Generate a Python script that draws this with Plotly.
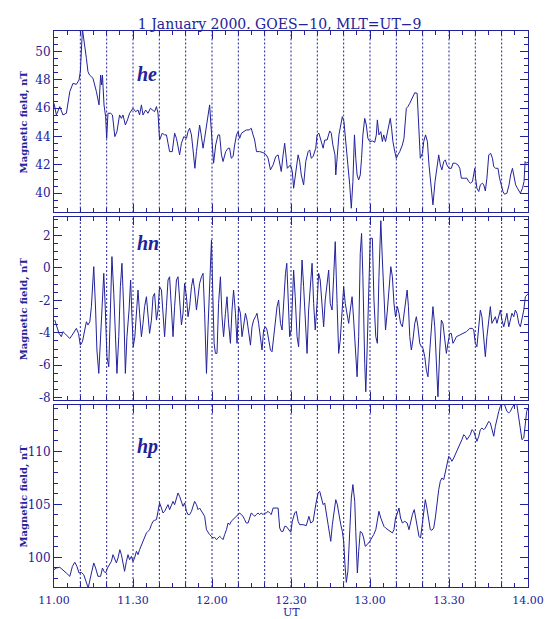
import plotly.graph_objects as go

# ---------------- data (minutes after 11:00 UT, nT) ----------------
he_t = [0, 0.9, 2.2, 3.4, 4.7, 6.0, 7.2, 8.5, 9.5, 10.0,
        10.8, 11.7, 12.3, 12.9, 13.5, 14.8, 16.1, 17.1, 17.7, 18.1,
        18.4, 19.0, 19.6, 20.0, 20.5, 21.5, 22.2, 23.1, 23.9, 24.9,
        25.6, 26.2, 27.1, 27.9, 28.7, 30.0, 31.0, 31.9, 32.5, 33.2,
        33.8, 34.8, 35.7, 36.6, 37.4, 38.2, 38.9, 39.5, 40.1, 41.1,
        42.0, 42.7, 43.3, 43.9, 44.9, 45.8, 46.5, 47.1, 47.7, 48.4,
        49.3, 50.3, 50.9, 51.5, 52.2, 52.8, 53.5, 54.1, 54.7, 55.3,
        55.9, 56.6, 57.2, 57.9, 58.5, 59.1, 59.6, 60.1, 60.6, 61.4,
        62.3, 62.9, 63.6, 64.2, 65.2, 66.1, 66.7, 67.3, 68.0, 68.6,
        69.3, 69.9, 70.5, 71.2, 72.0, 73.0, 74.1, 74.9, 75.6, 76.2,
        76.9, 78.1, 79.4, 80.6, 81.3, 82.2, 83.2, 84.2, 85.1, 85.7,
        86.3, 87.0, 87.6, 88.2, 88.6, 89.8, 90.5, 91.0, 91.8, 92.7,
        93.3, 93.9, 94.8, 95.6, 96.5, 97.1, 97.7, 98.4, 99.4, 99.9,
        100.6, 101.5, 102.2, 102.8, 103.7, 104.7, 105.3, 105.9, 106.7, 107.0,
        107.5, 108.2, 108.9, 109.5, 110.1, 110.8, 111.6, 112.3, 112.9, 113.5,
        114.1, 114.6, 115.1, 115.7, 116.3, 116.8, 117.3, 118.0, 118.6, 119.2,
        119.9, 120.9, 121.8, 122.4, 122.8, 123.4, 124.1, 124.7, 125.2, 125.9,
        126.8, 127.7, 128.2, 128.7, 129.4, 130.0, 130.6, 131.3, 132.3, 132.9,
        133.8, 134.4, 135.1, 135.7, 136.3, 137.0, 137.9, 138.6, 139.1, 139.9,
        140.4, 141.1, 141.8, 142.4, 143.3, 143.9, 144.7, 145.4, 146.1, 146.7,
        147.3, 148.0, 148.6, 149.2, 150.0, 150.9, 151.5, 152.4, 153.4, 154.1,
        154.7, 156.0, 156.8, 157.5, 158.1, 158.9, 159.4, 159.8, 160.1, 160.6,
        161.3, 161.9, 162.7, 163.2, 163.8, 164.4, 165.1, 165.8, 166.5, 167.0,
        167.7, 168.6, 169.2, 169.9, 170.5, 171.1, 172.0, 172.8, 173.4, 174.1,
        174.7, 175.3, 176.0, 176.6, 177.1, 177.9, 178.5, 178.9, 179.4, 180.0]
he_v = [46.35, 45.53, 46.12, 45.53, 45.65, 47.18, 47.76, 47.69, 48.0, 48.59,
        51.6, 50.47, 49.53, 48.59, 48.35, 48.12, 47.18, 46.24, 48.35, 47.65,
        48.35, 46.24, 45.41, 43.88, 45.65, 45.65, 45.53, 44.0, 44.35, 45.53,
        45.29, 45.53, 44.82, 45.18, 45.65, 46.0, 45.76, 45.88, 45.53, 46.24,
        45.53, 45.88, 45.65, 46.0, 45.88, 45.76, 46.12, 45.65, 43.76, 44.24,
        44.12, 44.12, 43.53, 42.94, 42.94, 44.24, 43.88, 43.18, 42.71, 43.53,
        44.0, 43.88, 44.35, 44.59, 44.12, 43.06, 41.76, 42.94, 44.12, 44.82,
        44.12, 43.18, 43.88, 44.82, 45.76, 46.24, 44.82, 42.94, 42.12, 43.41,
        44.12, 44.12, 42.71, 42.24, 42.94, 43.18, 43.18, 42.47, 42.59, 43.41,
        44.12, 44.35, 43.88, 44.24, 44.35, 44.47, 44.47, 44.59, 44.12, 43.76,
        42.94, 42.94, 42.87, 42.71, 42.47, 41.65, 42.0, 42.59, 42.71, 42.0,
        41.53, 42.71, 43.53, 42.47, 41.76, 42.0, 41.53, 40.35, 41.53, 42.71,
        42.24, 41.29, 40.59, 42.24, 42.94, 43.06, 42.47, 42.59, 43.18, 44.12,
        44.24, 43.65, 43.18, 43.76, 43.76, 44.4, 44.24, 43.41, 42.71, 41.29,
        42.47, 44.12, 44.82, 45.41, 45.06, 43.41, 42.0, 40.59, 38.94, 40.82,
        44.12, 42.47, 41.29, 40.94, 41.29, 42.47, 44.12, 45.29, 44.82, 43.88,
        43.65, 43.69, 43.6, 44.12, 45.18, 44.12, 44.35, 43.65, 44.12, 43.65,
        44.59, 45.29, 44.59, 43.65, 42.94, 42.47, 42.71, 42.94, 43.41, 43.88,
        46.0, 46.12, 46.35, 46.59, 46.94, 47.1, 47.06, 44.12, 42.47, 42.82,
        43.65, 44.12, 43.65, 42.0, 40.35, 39.18, 40.82, 42.0, 42.71, 42.0,
        41.65, 42.24, 42.35, 42.0, 41.76, 41.76, 42.12, 42.12, 42.0, 41.76,
        41.06, 41.06, 41.06, 40.82, 40.71, 40.82, 41.29, 41.76, 41.06, 40.35,
        40.12, 40.59, 40.71, 40.59, 40.16, 41.06, 42.71, 42.82, 42.47, 41.88,
        41.76, 41.76, 41.06, 40.47, 40.12, 39.93, 40.0, 40.59, 41.29, 41.76,
        41.06, 40.59, 40.35, 40.12, 40.0, 40.35, 40.82, 42.24, 42.12, 42.2]

hn_t = [0.3, 1.2, 1.9, 2.8, 3.4, 4.1, 5.0, 6.0, 6.9, 7.9,
        8.5, 9.3, 10.0, 10.8, 11.7, 12.3, 12.9, 13.6, 14.2, 15.1,
        15.8, 16.3, 17.0, 17.6, 18.1, 18.9, 19.5, 20.1, 20.8, 21.4,
        22.0, 22.7, 23.3, 23.9, 24.6, 25.2, 25.8, 26.5, 27.1, 27.7,
        28.5, 29.1, 29.6, 30.1, 30.7, 31.3, 31.9, 32.5, 33.2, 33.8,
        34.4, 35.1, 35.7, 36.3, 37.0, 37.6, 38.2, 38.9, 39.5, 40.1,
        40.8, 41.4, 42.0, 42.7, 43.3, 43.9, 44.6, 45.2, 45.8, 46.5,
        47.1, 47.7, 48.4, 49.0, 49.6, 50.3, 50.9, 51.5, 52.2, 52.8,
        53.4, 54.1, 54.7, 55.3, 56.0, 56.6, 57.2, 57.9, 58.5, 59.1,
        59.8, 60.3, 60.8, 61.3, 61.9, 62.5, 63.2, 63.8, 64.4, 65.1,
        65.7, 66.3, 67.0, 67.6, 68.2, 68.9, 69.5, 70.1, 70.8, 71.4,
        72.0, 72.7, 73.3, 73.9, 74.6, 75.2, 75.8, 76.5, 77.1, 77.7,
        78.4, 79.0, 79.6, 80.3, 80.9, 81.5, 82.2, 82.8, 83.4, 84.1,
        84.7, 85.3, 86.0, 86.6, 87.2, 87.9, 88.4, 88.9, 89.5, 90.1,
        90.5, 91.0, 91.6, 92.3, 92.9, 93.5, 94.2, 94.8, 95.4, 96.1,
        96.7, 97.3, 98.0, 98.6, 99.2, 99.9, 100.5, 101.1, 101.8, 102.4,
        103.0, 103.7, 104.3, 104.9, 105.6, 106.2, 106.8, 107.5, 108.1, 108.7,
        109.4, 110.0, 110.6, 111.3, 111.9, 112.5, 113.2, 113.8, 114.4, 115.1,
        115.7, 116.3, 116.8, 117.3, 118.0, 118.4, 118.9, 119.5, 120.1, 120.9,
        121.5, 122.2, 122.8, 123.4, 124.1, 124.7, 125.3, 125.9, 126.6, 127.2,
        127.9, 128.5, 129.1, 129.7, 130.4, 131.0, 131.6, 132.3, 132.9, 133.5,
        134.1, 134.6, 135.1, 135.7, 136.3, 137.0, 137.6, 138.2, 138.9, 139.5,
        140.1, 140.8, 141.4, 142.0, 142.7, 143.3, 143.9, 144.6, 145.2, 145.8,
        146.5, 147.1, 147.7, 148.4, 149.0, 149.6, 150.3, 150.9, 151.5, 152.2,
        152.8, 154.1, 155.3, 156.6, 157.9, 158.9, 159.4, 160.0, 160.6, 161.3,
        161.9, 162.5, 163.2, 163.8, 164.4, 165.1, 165.7, 166.3, 167.0, 167.6,
        168.2, 168.9, 169.5, 170.1, 170.8, 171.4, 172.0, 172.7, 173.3, 173.9,
        174.6, 175.2, 175.8, 176.5, 177.1, 177.7, 178.4, 179.0, 179.5, 180.0]
hn_v = [-3.22, -3.63, -4.04, -4.24, -3.93, -4.04, -4.2, -4.35, -4.14, -3.83,
        -3.73, -4.04, -4.76, -4.55, -3.83, -3.32, -3.52, -3.32, -2.39, 0.07,
        -2.6, -5.06, -6.5, -4.65, -2.6, -0.34, -2.6, -5.47, -6.09, -2.6,
        0.69, -1.57, -4.65, -6.5, -4.24, -1.16, 0.28, -2.6, -6.5, -4.24,
        -2.6, -0.75, -3.01, -4.86, -4.24, -2.6, -1.37, -2.8, -4.24, -3.42,
        -2.39, -1.78, -3.01, -4.04, -3.22, -1.78, -1.57, -3.22, -2.6, -1.16,
        -1.37, -3.01, -4.24, -2.39, -0.75, -0.55, -2.19, -4.24, -2.39, -0.75,
        -0.55, -2.19, -3.52, -2.8, -0.96, -1.78, -3.01, -2.39, -1.16, -0.65,
        -1.37, -2.6, -1.78, -0.96, -0.55, -0.34, -2.8, -6.5, -3.63, -1.37,
        1.71, -1.57, -4.65, -5.27, -5.27, -2.19, -0.55, -3.01, -4.24, -2.8,
        -1.78, -3.42, -4.65, -2.6, -1.37, -2.8, -4.65, -2.39, -2.8, -4.24,
        -3.42, -2.8, -3.22, -4.04, -4.76, -3.63, -3.22, -3.01, -2.8, -3.42,
        -4.45, -5.06, -3.83, -3.63, -3.83, -4.45, -5.06, -5.17, -4.24, -3.42,
        -2.39, -1.98, -3.42, -3.83, -1.98, -0.34, 0.28, -1.57, -4.24, -3.83,
        -2.19, -0.14, -1.78, -4.24, -4.86, -2.19, 0.48, -1.16, -3.42, -5.27,
        -2.6, -1.16, 0.28, -2.19, -3.83, -2.19, -0.34, -0.75, -2.6, -3.63,
        -1.98, -0.75, -0.14, -2.19, -2.6, -0.55, 1.61, -2.19, -5.27, -4.45,
        -2.6, -1.16, -2.19, -3.01, -3.42, -2.6, -1.78, -3.22, -5.06, -6.71,
        -4.24, 0.89, 2.12, -0.55, -5.88, -7.63, -5.06, -1.37, 1.82, 1.82,
        -1.98, -4.24, -4.65, -0.55, 2.9, 0.48, -2.19, -3.83, -2.6, -1.16,
        0.07, -0.55, -2.19, -3.01, -2.39, -2.8, -3.42, -3.63, -2.8, -2.19,
        -1.37, -2.39, -4.24, -5.06, -4.45, -3.42, -3.01, -3.63, -4.65, -4.86,
        -4.96, -5.47, -6.3, -6.71, -5.27, -3.63, -2.39, -3.63, -5.88, -7.94,
        -5.06, -3.22, -3.42, -4.24, -5.27, -4.65, -4.04, -4.04, -4.65, -4.45,
        -4.24, -4.14, -4.04, -3.93, -3.73, -3.73, -3.83, -4.65, -4.86, -3.83,
        -2.6, -3.01, -4.24, -5.47, -4.24, -3.01, -2.39, -3.42, -3.22, -3.01,
        -3.42, -3.01, -2.6, -3.22, -3.63, -3.22, -2.8, -3.63, -3.22, -2.8,
        -3.01, -2.6, -2.8, -3.42, -3.63, -3.22, -2.6, -1.78, -1.68, -1.6]

hp_t = [0.0, 0.9, 2.2, 3.4, 4.7, 6.0, 7.0, 7.9, 8.7, 9.5,
        10.4, 11.3, 12.3, 13.0, 13.8, 14.6, 15.1, 15.8, 16.7, 17.7,
        18.4, 19.0, 19.6, 20.3, 21.2, 21.8, 22.4, 23.0, 23.7, 24.3,
        25.0, 25.6, 26.2, 26.8, 27.5, 28.1, 28.7, 29.4, 30.0, 30.6,
        31.3, 31.9, 32.5, 33.2, 33.8, 34.4, 35.1, 35.7, 36.3, 37.0,
        37.6, 38.2, 38.9, 39.5, 40.1, 40.8, 41.4, 42.0, 42.7, 43.3,
        43.9, 44.6, 45.2, 45.8, 46.5, 47.1, 47.7, 48.4, 49.0, 49.6,
        50.3, 50.9, 51.5, 52.2, 52.8, 53.4, 54.1, 54.7, 55.3, 56.0,
        56.6, 57.2, 57.9, 58.5, 59.1, 59.8, 60.4, 61.0, 61.7, 62.3,
        62.9, 63.6, 64.2, 64.8, 65.5, 66.1, 66.7, 67.3, 68.0, 68.6,
        69.3, 69.9, 70.5, 71.2, 71.8, 72.4, 73.0, 73.7, 74.3, 74.9,
        75.6, 76.2, 76.8, 77.5, 78.1, 78.7, 79.4, 80.0, 80.6, 81.3,
        81.9, 82.5, 83.2, 83.8, 84.4, 85.1, 85.7, 86.3, 87.0, 87.6,
        88.2, 88.9, 89.9, 90.5, 91.4, 92.0, 92.7, 93.3, 94.6, 95.8,
        96.8, 97.5, 98.4, 99.4, 100.3, 100.9, 101.5, 102.2, 102.8, 103.4,
        104.1, 104.7, 105.1, 105.7, 106.3, 107.0, 107.6, 108.2, 108.9, 109.5,
        110.0, 110.5, 111.0, 111.6, 112.3, 112.9, 113.5, 114.2, 114.6, 115.2,
        115.7, 116.3, 117.0, 117.6, 118.2, 118.9, 119.9, 120.8, 121.4, 122.2,
        122.8, 123.4, 124.1, 124.7, 125.3, 125.9, 126.8, 127.7, 128.5, 129.1,
        129.7, 130.4, 131.0, 131.6, 132.3, 133.2, 134.1, 134.8, 135.4, 136.1,
        136.8, 137.3, 138.0, 138.6, 139.2, 139.9, 140.5, 141.0, 141.6, 142.3,
        142.9, 143.5, 144.2, 144.8, 145.4, 146.1, 146.7, 147.3, 148.0, 148.6,
        149.2, 149.9, 150.5, 151.1, 151.8, 152.4, 153.0, 153.7, 154.3, 154.9,
        155.6, 156.2, 156.8, 157.5, 158.1, 158.7, 159.4, 160.0, 160.6, 161.3,
        161.9, 162.5, 163.2, 163.8, 164.4, 165.1, 165.7, 166.3, 167.0, 167.6,
        168.2, 168.9, 169.5, 170.1, 170.8, 171.4, 172.0, 172.7, 173.3, 173.9,
        174.6, 175.2, 175.8, 176.5, 177.1, 177.7, 178.4, 179.0, 179.5, 180.0]
hp_v = [98.84, 98.99, 99.06, 98.84, 98.52, 98.21, 99.15, 99.53, 99.15, 98.52,
        98.58, 98.36, 97.58, 97.1, 98.05, 98.99, 99.47, 98.99, 98.21, 98.21,
        98.99, 98.68, 98.52, 98.99, 99.31, 99.62, 100.25, 99.94, 99.47, 99.94,
        100.72, 100.25, 99.47, 98.68, 99.62, 100.25, 99.78, 100.09, 99.62, 99.94,
        100.57, 100.25, 100.72, 101.19, 101.51, 101.82, 102.3, 102.45, 102.61, 103.08,
        103.4, 103.49, 103.55, 104.34, 105.13, 104.65, 104.18, 104.34, 104.65, 104.97,
        104.5, 104.97, 105.28, 104.97, 105.6, 106.07, 105.75, 105.28, 104.81, 105.13,
        104.34, 104.03, 104.03, 104.34, 104.81, 105.28, 104.97, 104.5, 104.65, 104.34,
        104.18, 103.87, 102.61, 102.3, 102.14, 101.98, 101.82, 101.89, 101.67, 101.82,
        101.98, 101.82, 101.67, 102.14, 102.61, 103.24, 103.08, 103.4, 103.55, 103.71,
        103.87, 104.03, 104.18, 104.03, 103.87, 103.55, 103.24, 103.24, 103.71, 104.18,
        104.03, 103.87, 104.03, 104.18, 104.03, 104.18, 104.03, 104.18, 104.18, 104.34,
        104.18, 104.03, 104.65, 104.65, 104.72, 104.65, 102.77, 102.45, 102.45, 102.92,
        102.92, 102.67, 102.36, 103.4, 104.18, 104.34, 103.4, 103.08, 103.08, 102.99,
        103.87, 103.24, 103.4, 104.97, 106.07, 106.23, 105.6, 104.97, 105.13, 104.34,
        103.08, 102.14, 101.51, 103.08, 104.34, 105.44, 104.97, 104.03, 103.08, 102.45,
        101.51, 99.31, 97.64, 98.68, 101.82, 105.6, 106.86, 105.28, 102.45, 98.52,
        100.57, 102.45, 102.3, 101.82, 101.04, 101.19, 101.51, 101.82, 102.14, 102.61,
        103.4, 104.34, 103.71, 103.24, 102.92, 102.77, 102.61, 102.45, 102.3, 102.61,
        103.71, 104.18, 104.65, 103.71, 103.24, 103.4, 103.24, 102.61, 103.4, 104.03,
        104.5, 103.71, 102.61, 101.98, 101.82, 103.4, 104.65, 105.44, 104.65, 103.55,
        102.61, 102.55, 102.77, 103.71, 105.28, 106.38, 107.17, 107.48, 107.33, 107.96,
        108.74, 109.53, 109.37, 109.06, 109.37, 109.69, 110.0, 110.47, 110.79, 111.1,
        111.57, 111.42, 111.1, 111.42, 111.57, 112.04, 111.89, 111.42, 110.94, 111.42,
        112.04, 112.2, 112.04, 112.2, 112.52, 112.83, 112.67, 112.04, 111.42, 112.36,
        113.14, 113.77, 114.25, 114.6, 114.6, 114.09, 113.77, 113.62, 113.77, 114.09,
        114.34, 114.6, 114.34, 113.14, 111.89, 111.1, 111.26, 112.83, 113.77, 114.09]

x_tick_vals = [0, 30, 60, 90, 120, 150, 180]
x_tick_labels = ["11.00", "11.30", "12.00", "12.30", "13.00", "13.30", "14.00"]
grid_minutes = [10, 20, 30, 40, 50, 60, 70, 80, 90, 100, 110, 120, 130, 140, 150, 160, 170]

he_ticks = [40, 42, 44, 46, 48, 50]
hn_ticks = [-8, -6, -4, -2, 0, 2]
hn_tick_labels = ["-8", "-6", "-4", "-2", "0", "2"]
hp_ticks = [100, 105, 110]

panel_names = ["he", "hn", "hp"]
title_text = "1 January 2000. GOES\u221210, MLT=UT\u22129"
y_title = "Magnetic field, nT"

# ---------------- styling ----------------
C = "#22229a"
FONT = "DejaVu Serif"

fig = go.Figure()
for i, (t, v) in enumerate([(he_t, he_v), (hn_t, hn_v), (hp_t, hp_v)]):
    sfx = "" if i == 0 else str(i + 1)
    fig.add_trace(go.Scatter(x=t, y=v, mode="lines", xaxis="x" + sfx, yaxis="y" + sfx,
                             line=dict(color=C, width=1), showlegend=False, hoverinfo="skip"))

def xax(show_labels, anchor):
    return dict(range=[0, 180], anchor=anchor, domain=[0, 1], automargin=False,
                tickmode="array", tickvals=x_tick_vals, ticktext=x_tick_labels,
                showticklabels=show_labels, ticks="inside", ticklen=8, tickwidth=1, tickcolor=C,
                minor=dict(tickmode="linear", tick0=0, dtick=5, ticks="inside", ticklen=4,
                           tickcolor=C, tickwidth=1, showgrid=False),
                showline=True, linecolor=C, linewidth=1, mirror="allticks",
                showgrid=False, zeroline=False, ticklabelstandoff=3,
                tickfont=dict(family=FONT, size=11, color=C), fixedrange=True)

def yax(rng, dom, vals, texts, minor_dt, anchor):
    return dict(range=rng, domain=dom, anchor=anchor, automargin=False,
                tickmode="array", tickvals=vals, ticktext=texts,
                ticks="inside", ticklen=8, tickwidth=1, tickcolor=C,
                minor=dict(tickmode="linear", tick0=0, dtick=minor_dt, ticks="inside", ticklen=4,
                           tickcolor=C, tickwidth=1, showgrid=False),
                showline=True, linecolor=C, linewidth=1, mirror="allticks",
                showgrid=False, zeroline=False,
                tickfont=dict(family=FONT, size=12, color=C), fixedrange=True)

doms = [[0.6736, 1.0], [0.3363, 0.6649], [0.0, 0.3279]]

fig.update_layout(
    width=546, height=619,
    margin=dict(l=54, r=18, t=31, b=32, autoexpand=False),
    paper_bgcolor="white", plot_bgcolor="white",
    xaxis=xax(False, "y"),
    xaxis2=xax(False, "y2"),
    xaxis3=xax(True, "y3"),
    yaxis=yax([38.64, 51.46], doms[0], he_ticks, [str(v) for v in he_ticks], 0.5, "x"),
    yaxis2=yax([-8.14, 3.11], doms[1], hn_ticks, hn_tick_labels, 0.5, "x2"),
    yaxis3=yax([97.2, 114.4], doms[2], hp_ticks, [str(v) for v in hp_ticks], 1, "x3"),
    title=dict(text=title_text, x=0.476, xref="paper", xanchor="center",
               y=1 - 24 / 619, yref="container", yanchor="middle",
               font=dict(family=FONT, size=14, color=C)),
    showlegend=False,
)

shapes = []
for i in range(3):
    sfx = "" if i == 0 else str(i + 1)
    for m in grid_minutes:
        shapes.append(dict(type="line", xref="x" + sfx, yref="y" + sfx + " domain",
                           x0=m, x1=m, y0=0, y1=1, layer="below",
                           line=dict(color=C, width=1, dash="2px,2px")))
fig.update_layout(shapes=shapes)

ann = []
label_y = [0.763, 0.858, 0.772]
for i, name in enumerate(panel_names):
    sfx = "" if i == 0 else str(i + 1)
    ann.append(dict(text="<b><i>" + name + "</i></b>", xref="x" + sfx + " domain",
                    yref="y" + sfx + " domain", x=0.17, y=label_y[i],
                    xanchor="left", yanchor="middle", showarrow=False,
                    font=dict(family="Liberation Serif", size=20, color=C)))
    ann.append(dict(text="<b>" + y_title + "</b>", xref="paper", yref="y" + sfx + " domain",
                    x=-0.064, y=0.5, xanchor="center", yanchor="middle", textangle=-90,
                    showarrow=False, font=dict(family=FONT, size=10, color=C)))
ann.append(dict(text="UT", xref="paper", yref="paper", x=0.5, y=-0.045,
                xanchor="center", yanchor="middle", showarrow=False,
                font=dict(family=FONT, size=11, color=C)))
fig.update_layout(annotations=ann)

fig.write_html("out.html", config={"displayModeBar": False},
               post_script="document.body.style.margin='0px';document.body.style.overflow='hidden';")
